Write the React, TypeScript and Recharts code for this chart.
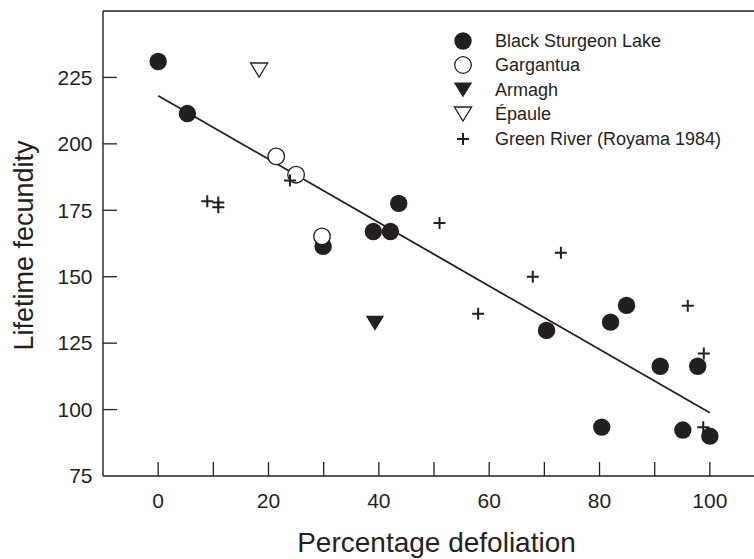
import React from 'react';
import { ScatterChart, Scatter, XAxis, YAxis, ReferenceLine, Label } from 'recharts';

const INK = '#231f20';
const FONT = '"Liberation Sans", Arial, Helvetica, sans-serif';

// Black Sturgeon Lake (filled circles)
const blackSturgeonLake = [
  { x: 0, y: 231 },
  { x: 5.3, y: 211.4 },
  { x: 29.9, y: 161.4 },
  { x: 39, y: 167 },
  { x: 42.1, y: 167 },
  { x: 43.6, y: 177.6 },
  { x: 70.4, y: 129.8 },
  { x: 82, y: 132.9 },
  { x: 84.9, y: 139.2 },
  { x: 91, y: 116.3 },
  { x: 97.8, y: 116.3 },
  { x: 80.4, y: 93.4 },
  { x: 95.1, y: 92.3 },
  { x: 100, y: 90 },
];

// Gargantua (open circles)
const gargantua = [
  { x: 21.4, y: 195.3 },
  { x: 25, y: 188.4 },
  { x: 29.7, y: 165.2 },
];

// Armagh (filled down triangle)
const armagh = [{ x: 39.3, y: 132.5 }];

// Épaule (open down triangle)
const epaule = [{ x: 18.3, y: 227.8 }];

// Green River (Royama 1984) (plus)
const greenRiver = [
  { x: 8.9, y: 178.4 },
  { x: 10.9, y: 177.9 },
  { x: 10.9, y: 176.1 },
  { x: 23.9, y: 186.2 },
  { x: 51, y: 170.2 },
  { x: 58, y: 136.1 },
  { x: 67.9, y: 150 },
  { x: 73, y: 159 },
  { x: 96, y: 139.1 },
  { x: 98.9, y: 121.1 },
  { x: 98.8, y: 93.3 },
];

// Regression line end points
const fitLine = [
  { x: 0, y: 218.1 },
  { x: 100, y: 98.8 },
];

const xTicks = [0, 10, 20, 30, 40, 50, 60, 70, 80, 90, 100];
const yTicks = [75, 100, 125, 150, 175, 200, 225];
const xDomain = [-10, 108];
const yDomain = [75, 250];

const legendItems = [
  { label: 'Black Sturgeon Lake', kind: 'filledCircle' },
  { label: 'Gargantua', kind: 'openCircle' },
  { label: 'Armagh', kind: 'filledTri' },
  { label: 'Épaule', kind: 'openTri' },
  { label: 'Green River (Royama 1984)', kind: 'plus' },
];

const drawMarker = (kind: string, cx: number, cy: number) => {
  switch (kind) {
    case 'filledCircle':
      return <circle cx={cx} cy={cy} r={8.7} fill={INK} />;
    case 'openCircle':
      return <circle cx={cx} cy={cy} r={8.3} fill="#fff" stroke={INK} strokeWidth={1.3} />;
    case 'filledTri':
      return (
        <polygon
          points={`${cx - 9.2},${cy - 7.5} ${cx + 9.2},${cy - 7.5} ${cx},${cy + 7.5}`}
          fill={INK}
        />
      );
    case 'openTri':
      return (
        <polygon
          points={`${cx - 8.6},${cy - 7} ${cx + 8.6},${cy - 7} ${cx},${cy + 7}`}
          fill="#fff"
          stroke={INK}
          strokeWidth={1.3}
        />
      );
    case 'plus':
    default:
      return (
        <path
          d={`M${cx - 6},${cy}H${cx + 6}M${cx},${cy - 6}V${cy + 6}`}
          stroke={INK}
          strokeWidth={2}
          fill="none"
        />
      );
  }
};

const shapeOf = (kind: string) => (p: any) => <g>{drawMarker(kind, p.cx, p.cy)}</g>;
const EmptyShape = () => <g />;

const XTick = (props: any) => {
  const { x, y, payload } = props;
  const v = payload.value;
  return (
    <g>
      <line x1={x} x2={x} y1={y} y2={y - 14} stroke={INK} strokeWidth={1.3} />
      {v % 20 === 0 && (
        <text x={x} y={y + 32} textAnchor="middle" fontSize={21} fill={INK} fontFamily={FONT}>
          {v}
        </text>
      )}
    </g>
  );
};

const YTick = (props: any) => {
  const { x, y, payload } = props;
  const v = payload.value;
  return (
    <g>
      {v !== yDomain[0] && <line x1={x} x2={x + 14} y1={y} y2={y} stroke={INK} strokeWidth={1.3} />}
      <text x={x - 10.5} y={y + 7.3} textAnchor="end" fontSize={21} fill={INK} fontFamily={FONT}>
        {v}
      </text>
    </g>
  );
};

const XTitle = (props: any) => {
  const vb = props.viewBox || {};
  return (
    <text
      x={vb.x + vb.width / 2 + 8}
      y={vb.y + 76}
      textAnchor="middle"
      fontSize={28}
      fill={INK}
      fontFamily={FONT}
    >
      Percentage defoliation
    </text>
  );
};

const YTitle = (props: any) => {
  const vb = props.viewBox || {};
  const cx = 33;
  const cy = vb.y + vb.height / 2 + 2;
  return (
    <text
      x={cx}
      y={cy}
      transform={`rotate(-90, ${cx}, ${cy})`}
      textAnchor="middle"
      fontSize={27}
      fill={INK}
      fontFamily={FONT}
    >
      Lifetime fecundity
    </text>
  );
};

const LegendBox = () => (
  <div
    style={{
      position: 'absolute',
      left: 451,
      top: 28.7,
      fontFamily: FONT,
      fontSize: 18,
      color: INK,
    }}
  >
    {legendItems.map((it) => (
      <div key={it.label} style={{ display: 'flex', alignItems: 'center', height: 24.5, whiteSpace: 'nowrap' }}>
        <svg width={24} height={24} style={{ display: 'block' }}>
          {drawMarker(it.kind, 12, 12)}
        </svg>
        <span style={{ marginLeft: 20, lineHeight: '24.5px' }}>{it.label}</span>
      </div>
    ))}
  </div>
);

export default function App() {
  return (
    <div style={{ position: 'absolute', left: 0, top: 0, width: 754, height: 559, background: '#fff' }}>
      <ScatterChart width={754} height={559} margin={{ top: 11, right: 0, bottom: 0, left: 0 }}>
        <XAxis
          type="number"
          dataKey="x"
          domain={xDomain}
          ticks={xTicks}
          interval={0}
          height={83}
          tickLine={false}
          tickSize={0}
          tickMargin={0}
          tick={<XTick />}
          axisLine={{ stroke: INK, strokeWidth: 1.4 }}
        >
          <Label content={<XTitle />} />
        </XAxis>
        <YAxis
          type="number"
          dataKey="y"
          domain={yDomain}
          ticks={yTicks}
          interval={0}
          width={103}
          tickLine={false}
          tickSize={0}
          tickMargin={0}
          tick={<YTick />}
          axisLine={{ stroke: INK, strokeWidth: 1.4 }}
        >
          <Label content={<YTitle />} />
        </YAxis>
        <ReferenceLine y={250} stroke={INK} strokeWidth={1.4} />
        <Scatter
          data={fitLine}
          line={{ stroke: INK, strokeWidth: 1.8 }}
          shape={EmptyShape}
          isAnimationActive={false}
        />
        <Scatter data={blackSturgeonLake} shape={shapeOf('filledCircle')} isAnimationActive={false} />
        <Scatter data={gargantua} shape={shapeOf('openCircle')} isAnimationActive={false} />
        <Scatter data={armagh} shape={shapeOf('filledTri')} isAnimationActive={false} />
        <Scatter data={epaule} shape={shapeOf('openTri')} isAnimationActive={false} />
        <Scatter data={greenRiver} shape={shapeOf('plus')} isAnimationActive={false} />
      </ScatterChart>
      <LegendBox />
    </div>
  );
}
